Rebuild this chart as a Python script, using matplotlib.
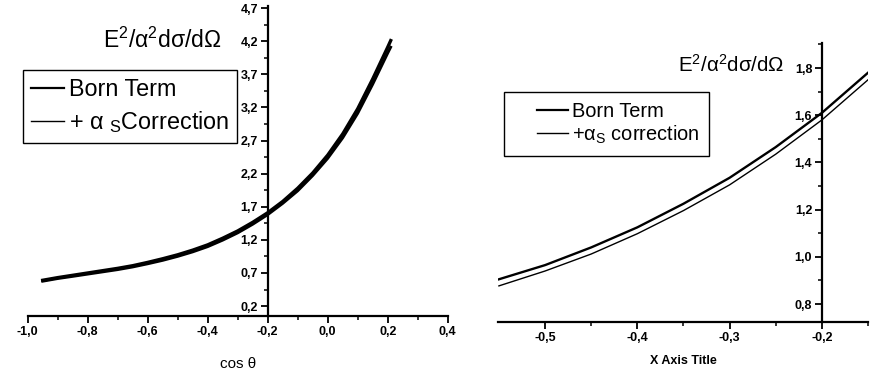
import matplotlib
matplotlib.use('Agg')
import matplotlib.pyplot as plt
from matplotlib.ticker import FixedLocator
from matplotlib.legend_handler import HandlerLine2D

plt.rcParams['font.family'] = ['Liberation Sans', 'DejaVu Sans']
plt.rcParams['mathtext.fontset'] = 'custom'
plt.rcParams['mathtext.rm'] = 'Liberation Sans'
plt.rcParams['mathtext.it'] = 'Liberation Sans:italic'
plt.rcParams['mathtext.default'] = 'regular'

# left panel: full cos(theta) range
cos_left = [-0.95, -0.9, -0.85, -0.8, -0.75, -0.7, -0.65, -0.6, -0.55, -0.5,
            -0.45, -0.4, -0.35, -0.3, -0.25, -0.2, -0.15, -0.1, -0.05, 0.0,
            0.05, 0.1, 0.15, 0.2, 0.21]
born_left = [0.59, 0.63, 0.665, 0.70, 0.735, 0.77, 0.81, 0.86, 0.915, 0.975,
             1.045, 1.125, 1.225, 1.335, 1.465, 1.61, 1.78, 1.98, 2.21, 2.48,
             2.80, 3.18, 3.63, 4.11, 4.21]
corr_left = [0.575, 0.615, 0.648, 0.682, 0.716, 0.75, 0.79, 0.838, 0.89, 0.95,
             1.018, 1.097, 1.195, 1.305, 1.435, 1.58, 1.75, 1.94, 2.17, 2.43,
             2.74, 3.11, 3.55, 4.02, 4.11]

# right panel: zoom around cos(theta) = -0.2
cos_right = [-0.55, -0.5, -0.45, -0.4, -0.35, -0.3, -0.25, -0.2, -0.15]
born_right = [0.905, 0.965, 1.04, 1.125, 1.225, 1.335, 1.465, 1.61, 1.78]
corr_right = [0.877, 0.94, 1.012, 1.098, 1.196, 1.305, 1.435, 1.58, 1.75]

xticks_left = [-1.0, -0.8, -0.6, -0.4, -0.2, 0.0, 0.2, 0.4]
xlabels_left = ['-1,0', '-0,8', '-0,6', '-0,4', '-0,2', '0,0', '0,2', '0,4']
yticks_left = [0.2, 0.7, 1.2, 1.7, 2.2, 2.7, 3.2, 3.7, 4.2, 4.7]
ylabels_left = ['0,2', '0,7', '1,2', '1,7', '2,2', '2,7', '3,2', '3,7', '4,2', '4,7']
xticks_right = [-0.5, -0.4, -0.3, -0.2]
xlabels_right = ['-0,5', '-0,4', '-0,3', '-0,2']
yticks_right = [0.8, 1.0, 1.2, 1.4, 1.6, 1.8]
ylabels_right = ['0,8', '1,0', '1,2', '1,4', '1,6', '1,8']


def style_axes(ax, xticks, xlabels, yticks, ylabels, xstep, ystep):
    for s in ['top', 'right']:
        ax.spines[s].set_visible(False)
    ax.spines['left'].set_position(('data', -0.2))
    ax.spines['left'].set_linewidth(1.6)
    ax.spines['bottom'].set_linewidth(1.6)
    ax.set_xticks(xticks, xlabels)
    ax.set_yticks(yticks, ylabels)
    # one minor tick between majors
    ax.xaxis.set_minor_locator(FixedLocator([t + xstep / 2 for t in xticks]))
    ax.yaxis.set_minor_locator(FixedLocator([t + ystep / 2 for t in yticks]))
    ax.tick_params(which='major', direction='out', length=5, width=1.3)
    ax.tick_params(which='minor', direction='out', length=3, width=1.1)
    ax.tick_params(which='major', labelsize=9, pad=2)
    for lab in ax.get_xticklabels() + ax.get_yticklabels():
        lab.set_fontweight('bold')


fig = plt.figure(figsize=(8.92, 3.74), dpi=100)

# ---- left panel ----
ax1 = fig.add_axes([27.7 / 892, 1 - 316 / 374, 420 / 892, 310.5 / 374])
ax1.plot(cos_left, born_left, color='black', lw=2.4, label='Born Term')
ax1.plot(cos_left, corr_left, color='black', lw=2.0, label='+ α ${}_{S}$Correction')
ax1.set_xlim(-1.0, 0.4)
ax1.set_ylim(0.05, 4.74)
style_axes(ax1, xticks_left, xlabels_left, yticks_left, ylabels_left, 0.2, 0.5)
ax1.set_xlabel('cos θ', fontsize=11, labelpad=14)
ax1.text(0.179, 0.863, 'E$^2$/α$^2$dσ/dΩ', transform=ax1.transAxes,
         fontsize=16.5, ha='left', va='baseline')
h1, l1 = ax1.get_legend_handles_labels()
leg1 = ax1.legend(h1, l1, loc='upper left', bbox_to_anchor=(-0.011, 0.792),
                  fontsize=16.8, fancybox=False, edgecolor='black', framealpha=1,
                  handlelength=1.4, handletextpad=0.2, borderpad=0.35,
                  labelspacing=0.35, borderaxespad=0)
leg1.get_frame().set_linewidth(1.0)
leg1.get_lines()[0].set_linewidth(1.6)
leg1.get_lines()[1].set_linewidth(1.0)

# ---- right panel ----
ax2 = fig.add_axes([498 / 892, 1 - 322 / 374, 370 / 892, 279 / 374])
ax2.plot(cos_right, born_right, color='black', lw=1.7, label='Born Term')
ax2.plot(cos_right, corr_right, color='black', lw=1.0, label='+α$_S$ correction')
ax2.set_xlim(-0.551, -0.15)
ax2.set_ylim(0.724, 1.906)
style_axes(ax2, xticks_right, xlabels_right, yticks_right, ylabels_right, 0.1, 0.2)
ax2.set_xlabel('X Axis Title', fontsize=9, fontweight='bold', labelpad=8)
ax2.text(0.486, 0.896, 'E$^2$/α$^2$dσ/dΩ', transform=ax2.transAxes,
         fontsize=14.8, ha='left', va='baseline')
leg2 = ax2.legend(loc='upper left', bbox_to_anchor=(0.016, 0.825),
                  fontsize=14.4, fancybox=False, edgecolor='black', framealpha=1,
                  handlelength=2.7, handletextpad=0.2, borderpad=0.5,
                  labelspacing=0.12, borderaxespad=0,
                  handler_map={plt.Line2D: HandlerLine2D(xpad=1.15)})
leg2.get_frame().set_linewidth(1.0)
leg2.get_lines()[0].set_linewidth(1.6)
leg2.get_lines()[1].set_linewidth(1.0)

fig.savefig('out.png', dpi=100)
